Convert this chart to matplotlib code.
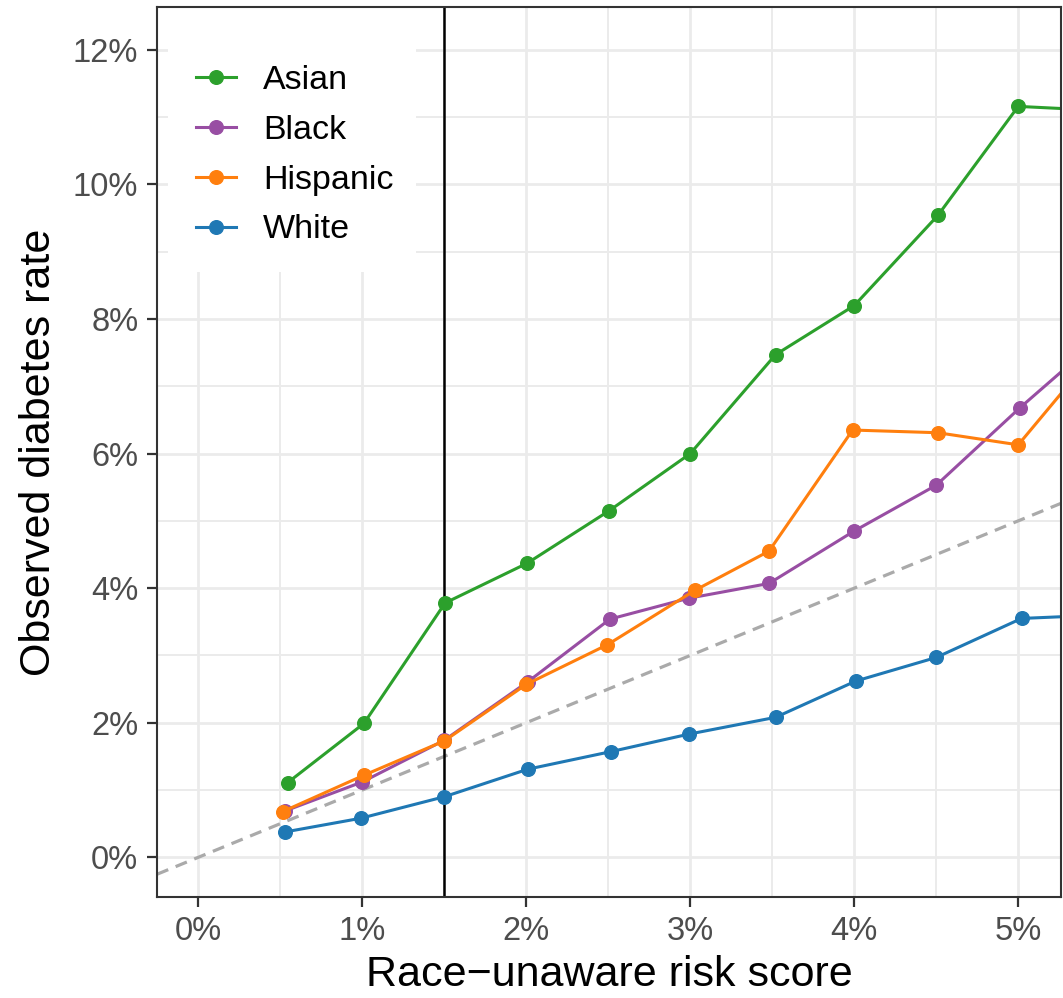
import matplotlib
matplotlib.use("Agg")
import matplotlib.pyplot as plt
from matplotlib.patches import Rectangle

plt.rcParams['font.family'] = ['Liberation Sans', 'DejaVu Sans']

groups = ["Asian", "Black", "Hispanic", "White"]
colors = ["#2ca02c", "#984ea3", "#ff7f0e", "#1f78b4"]

x_asian = [0.545, 1.01, 1.505, 2.005, 2.505, 3.0, 3.52, 4.0, 4.51, 5.0, 5.5]
y_asian = [1.11, 1.99, 3.78, 4.37, 5.15, 6.00, 7.47, 8.20, 9.54, 11.16, 11.10]

x_black = [0.53, 1.0, 1.5, 2.01, 2.51, 2.99, 3.48, 4.0, 4.5, 5.01, 5.5]
y_black = [0.69, 1.12, 1.74, 2.61, 3.54, 3.85, 4.07, 4.85, 5.53, 6.68, 7.72]

x_hisp = [0.515, 1.01, 1.5, 2.0, 2.495, 3.03, 3.48, 3.99, 4.51, 5.0, 5.5]
y_hisp = [0.68, 1.22, 1.73, 2.57, 3.16, 3.97, 4.55, 6.35, 6.31, 6.13, 7.59]

x_white = [0.527, 0.99, 1.5, 2.01, 2.515, 2.99, 3.52, 4.01, 4.5, 5.02, 5.5]
y_white = [0.376, 0.58, 0.90, 1.31, 1.57, 1.83, 2.08, 2.62, 2.97, 3.55, 3.60]

x_ticks = [0, 1, 2, 3, 4, 5]
x_ticklabels = ["0%", "1%", "2%", "3%", "4%", "5%"]
y_ticks = [0, 2, 4, 6, 8, 10, 12]
y_ticklabels = ["0%", "2%", "4%", "6%", "8%", "10%", "12%"]
threshold = 1.5

series = [(x_asian, y_asian), (x_black, y_black), (x_hisp, y_hisp), (x_white, y_white)]

fig = plt.figure(figsize=(10.63, 9.98), dpi=100)
ax = fig.add_axes([0.1477, 0.1012, 0.998 - 0.1477, 0.9925 - 0.1012])

ax.set_xlim(-0.252, 5.26)
ax.set_ylim(-0.59, 12.63)

# grid
ax.set_xticks(x_ticks)
ax.set_xticklabels(x_ticklabels)
ax.set_yticks(y_ticks)
ax.set_yticklabels(y_ticklabels)
ax.set_xticks([0.5, 1.5, 2.5, 3.5, 4.5], minor=True)
ax.set_yticks([1, 3, 5, 7, 9, 11], minor=True)
ax.grid(True, which='major', color='#ebebeb', lw=2.0, zorder=0)
ax.grid(True, which='minor', color='#ebebeb', lw=1.4, zorder=0)
ax.set_axisbelow(True)
ax.tick_params(which='minor', length=0)
ax.tick_params(which='major', length=7.5, width=1.6, color='#333333',
               labelsize=23.5, labelcolor='#4d4d4d', pad=6)

# legend background box
ax.add_patch(Rectangle((0.012, 0.7026), 0.2745, 0.2974, transform=ax.transAxes,
                       facecolor='white', edgecolor='none', zorder=0.9))

# diagonal reference
ax.axline((0, 0), slope=1, color='#aaaaaa', lw=2.3, ls=(0, (3.8, 2.5)), zorder=1)
ax.axvline(threshold, color='black', lw=1.8, zorder=1.5)

for (xs, ys), name, c in zip(series, groups, colors):
    ax.plot(xs, ys, color=c, lw=2.2, marker='o', ms=9.8, label=name, zorder=2)

for s in ax.spines.values():
    s.set_color('#333333')
    s.set_linewidth(1.5)
    s.set_zorder(5)

ax.set_xlabel("Race\u2212unaware risk score", fontsize=31, labelpad=6)
ax.set_ylabel("Observed diabetes rate", fontsize=31, labelpad=10)

leg = ax.legend(loc='upper left', bbox_to_anchor=(0.043, 0.935), frameon=False,
                fontsize=24.5, handlelength=1.18, handletextpad=0.8,
                labelspacing=0.55, borderpad=0, borderaxespad=0)

fig.savefig("out.png", dpi=100)
